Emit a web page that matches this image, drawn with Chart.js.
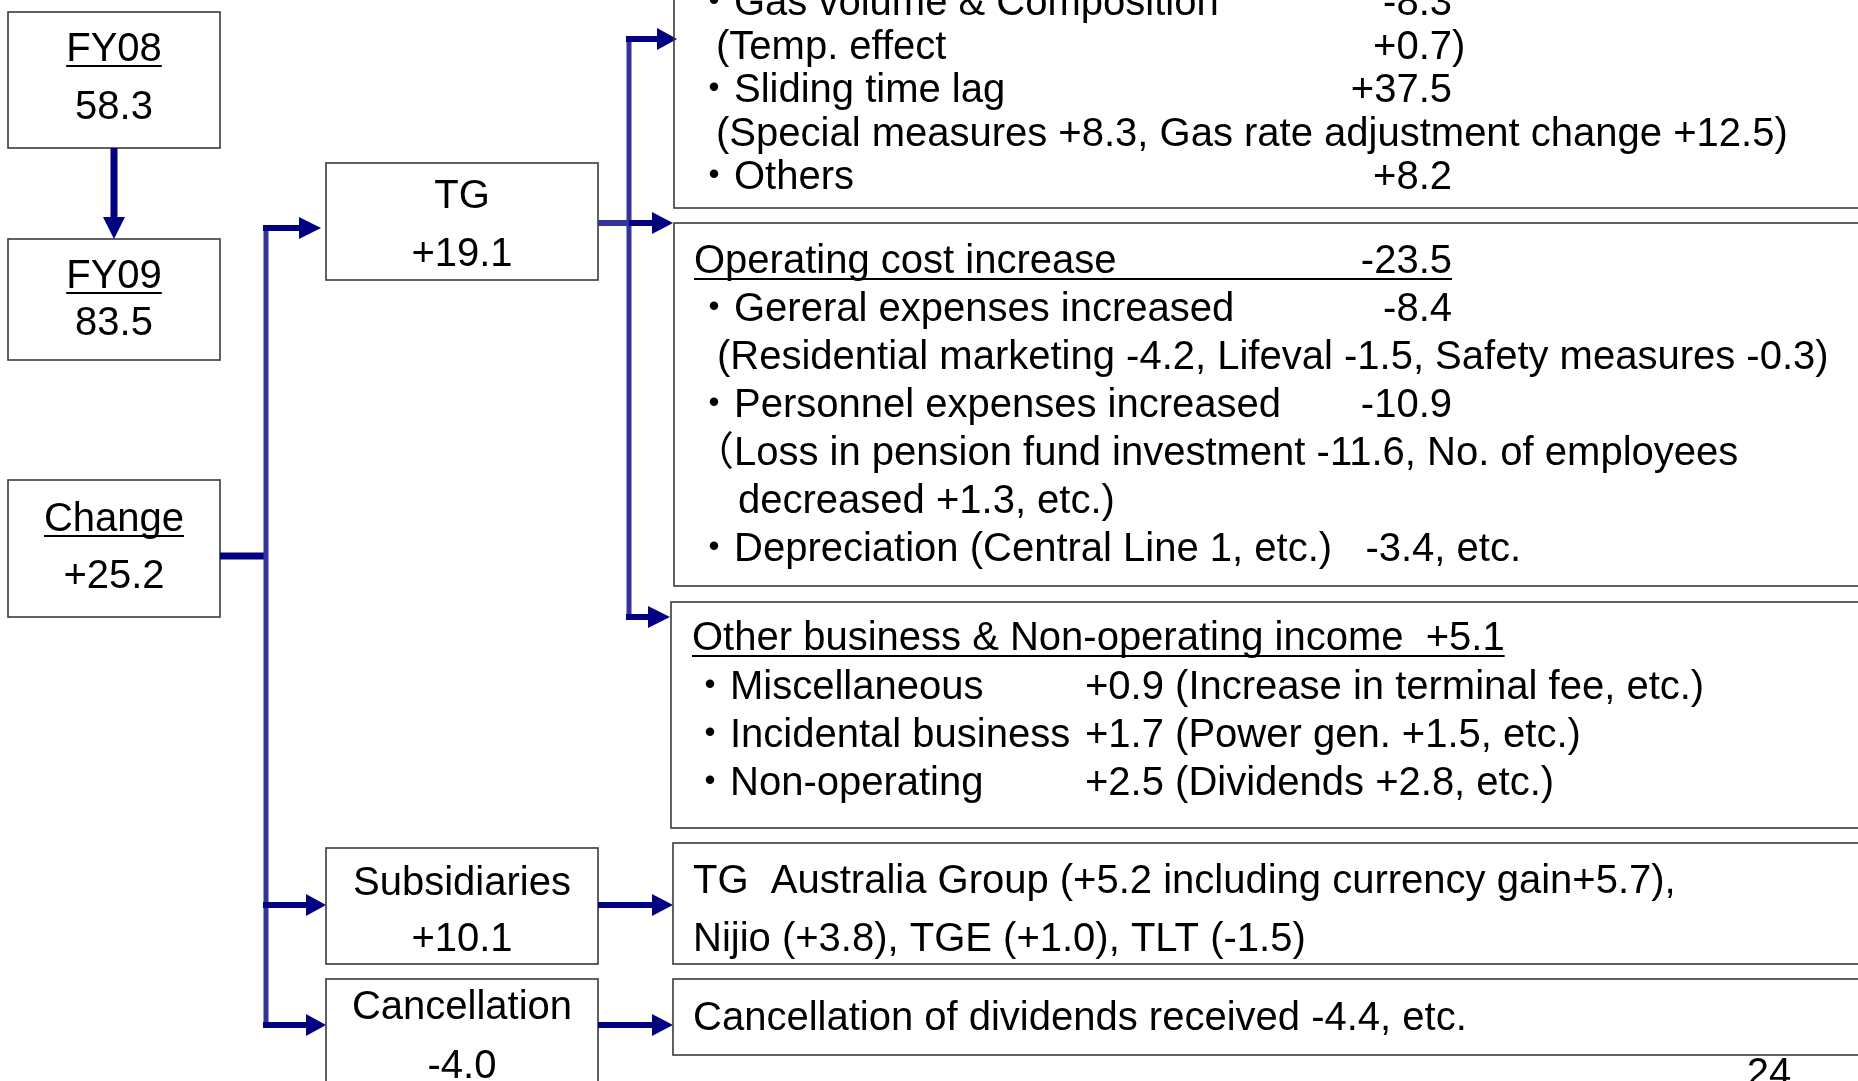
<!DOCTYPE html>
<html><head><meta charset="utf-8">
<script src="https://cdn.jsdelivr.net/npm/chart.js@4"></script>
<style>html,body{margin:0;padding:0;background:#fff;overflow:hidden}#wrap{width:1858px;height:1081px}</style>
</head><body><div id="wrap"><canvas id="c" width="1858" height="1081"></canvas></div>
<script>
// ---------- DATA ----------
const leftLabels = ['FY08', 'FY09', 'Change'];
const leftValues = ['58.3', '83.5', '+25.2'];
const segmentLabels = ['TG', 'Subsidiaries', 'Cancellation'];
const segmentValues = ['+19.1', '+10.1', '-4.0'];
const tgMarginItems = [
  ['・Gas volume & Composition', '-8.3'],
  ['(Temp. effect', '+0.7)'],
  ['・Sliding time lag', '+37.5'],
  ['(Special measures +8.3, Gas rate adjustment change +12.5)', ''],
  ['・Others', '+8.2']
];
const opCostTitle = ['Operating cost increase', '-23.5'];
const opCostItems = [
  ['・Gereral expenses increased', '-8.4'],
  ['(Residential marketing -4.2, Lifeval -1.5, Safety measures -0.3)', ''],
  ['・Personnel expenses increased', '-10.9'],
  ['（Loss in pension fund investment -11.6, No. of employees', ''],
  ['decreased +1.3, etc.)', ''],
  ['・Depreciation (Central Line 1, etc.)   -3.4, etc.', '']
];
const otherTitle = 'Other business & Non-operating income  +5.1';
const otherItems = [
  ['・Miscellaneous', '+0.9 (Increase in terminal fee, etc.)'],
  ['・Incidental business', '+1.7 (Power gen. +1.5, etc.)'],
  ['・Non-operating', '+2.5 (Dividends +2.8, etc.)']
];
const subsidiaryLines = ['TG  Australia Group (+5.2 including currency gain+5.7),', 'Nijio (+3.8), TGE (+1.0), TLT (-1.5)'];
const cancellationLines = ['Cancellation of dividends received -4.4, etc.'];
const pageNumber = '24';

// ---------- STYLE ----------
const FONT = '40px "Liberation Sans", Arial, "Noto Sans CJK JP", sans-serif';
const NAVY = '#000080';
const BUS = '#333399';
const BORDER = '#3a3a3a';

const diagramPlugin = {
  id: 'diagram',
  afterDraw(chart) {
    const ctx = chart.ctx;
    const xs = chart.scales.x, ys = chart.scales.y;
    const X = v => xs.getPixelForValue(v);
    const Y = v => ys.getPixelForValue(v);
    ctx.save();
    ctx.font = FONT;
    ctx.textBaseline = 'alphabetic';

    function rect(x0, y0, x1, y1) {
      ctx.strokeStyle = BORDER; ctx.lineWidth = 1.6;
      ctx.strokeRect(X(x0), Y(y0), X(x1) - X(x0), Y(y1) - Y(y0));
    }
    function text(s, x, y, align) {
      ctx.fillStyle = '#000'; ctx.textAlign = align || 'left';
      ctx.fillText(s, X(x), Y(y));
    }
    function underline(x0, x1, y) {
      ctx.strokeStyle = '#000'; ctx.lineWidth = 2;
      ctx.beginPath(); ctx.moveTo(X(x0), Y(y)); ctx.lineTo(X(x1), Y(y)); ctx.stroke();
    }
    function centeredUnderlined(s, cx, y) {
      text(s, cx, y, 'center');
      const w = ctx.measureText(s).width;
      underline(cx - w / 2, cx + w / 2, y + 5);
    }
    function seg(x0, y0, x1, y1, color, w) {
      ctx.strokeStyle = color; ctx.lineWidth = w; ctx.lineCap = 'butt';
      ctx.beginPath(); ctx.moveTo(X(x0), Y(y0)); ctx.lineTo(X(x1), Y(y1)); ctx.stroke();
    }
    function arrowRight(x0, xHead, xTip, y) {
      seg(x0, y, xHead + 1, y, NAVY, 6);
      ctx.fillStyle = NAVY;
      ctx.beginPath(); ctx.moveTo(X(xHead), Y(y - 11)); ctx.lineTo(X(xTip), Y(y)); ctx.lineTo(X(xHead), Y(y + 11)); ctx.closePath(); ctx.fill();
    }

    // ----- left column boxes -----
    const leftBoxes = [[12, 148, 61, 119], [239, 360, 288, 335], [480, 617, 531, 588]];
    leftLabels.forEach((lab, i) => {
      const b = leftBoxes[i];
      rect(8, b[0], 220, b[1]);
      centeredUnderlined(lab, 114, b[2]);
      text(leftValues[i], 114, b[3], 'center');
    });
    // ----- middle boxes -----
    const midBoxes = [[163, 280, 208, 266], [848, 964, 895, 951], [979, 1100, 1019, 1078]];
    segmentLabels.forEach((lab, i) => {
      const b = midBoxes[i];
      rect(326, b[0], 598, b[1]);
      text(lab, 462, b[2], 'center');
      text(segmentValues[i], 462, b[3], 'center');
    });

    // ----- connectors -----
    seg(114, 148, 114, 218, NAVY, 7);
    ctx.fillStyle = NAVY;
    ctx.beginPath(); ctx.moveTo(X(103), Y(217)); ctx.lineTo(X(125), Y(217)); ctx.lineTo(X(114), Y(239)); ctx.closePath(); ctx.fill();
    seg(220, 556, 266, 556, NAVY, 7);
    seg(266, 225, 266, 1028, BUS, 5);
    arrowRight(263, 299, 321, 228);
    arrowRight(263, 306, 326, 905);
    arrowRight(263, 306, 326, 1025);
    arrowRight(598, 652, 673, 905);
    arrowRight(598, 652, 673, 1025);
    seg(598, 223, 629, 223, BUS, 6);
    seg(629, 36, 629, 620, BUS, 5);
    arrowRight(626, 657, 677, 39);
    arrowRight(629, 652, 673, 223);
    arrowRight(626, 648, 670, 617);

    // ----- right boxes -----
    rect(674, -10, 1875, 208);
    rect(674, 223, 1875, 586);
    rect(671, 602, 1875, 828);
    rect(673, 843, 1875, 964);
    rect(673, 979, 1875, 1055);

    function lineX(s, bulletX, parenX, contX) {
      if (s.startsWith('・') || s.startsWith('（')) return bulletX;
      if (s.startsWith('(')) return parenX;
      return contX;
    }
    function drawValueRight(v, xr, y) {
      if (!v) return;
      const extra = v.endsWith(')') ? ctx.measureText(')').width : 0;
      text(v, xr + extra, y, 'right');
    }
    tgMarginItems.forEach((it, i) => {
      const y = 15 + i * 43.5;
      text(it[0], lineX(it[0], 694, 716, 716), y);
      drawValueRight(it[1], 1452, y);
    });
    text(opCostTitle[0], 694, 273);
    text(opCostTitle[1], 1452, 273, 'right');
    underline(694, 1452, 279);
    opCostItems.forEach((it, i) => {
      const y = 321 + i * 48;
      text(it[0], lineX(it[0], 694, 717, 738), y);
      drawValueRight(it[1], 1452, y);
    });
    text(otherTitle, 692, 650);
    underline(692, 692 + ctx.measureText(otherTitle).width, 656);
    otherItems.forEach((it, i) => {
      const y = 699 + i * 48;
      text(it[0], 690, y);
      text(it[1], 1085, y);
    });
    subsidiaryLines.forEach((s, i) => text(s, 693, 893 + i * 58));
    cancellationLines.forEach((s, i) => text(s, 693, 1030 + i * 58));
    text(pageNumber, 1769, 1086, 'center');
    ctx.restore();
  }
};

new Chart(document.getElementById('c'), {
  type: 'scatter',
  data: { datasets: [{ data: [], pointRadius: 0 }] },
  options: {
    responsive: false,
    animation: false,
    devicePixelRatio: 1,
    layout: { padding: 0 },
    plugins: { legend: { display: false }, tooltip: { enabled: false } },
    scales: {
      x: { type: 'linear', min: 0, max: 1858, display: false },
      y: { type: 'linear', min: 0, max: 1081, reverse: true, display: false }
    }
  },
  plugins: [diagramPlugin]
});
</script>
</body></html>
